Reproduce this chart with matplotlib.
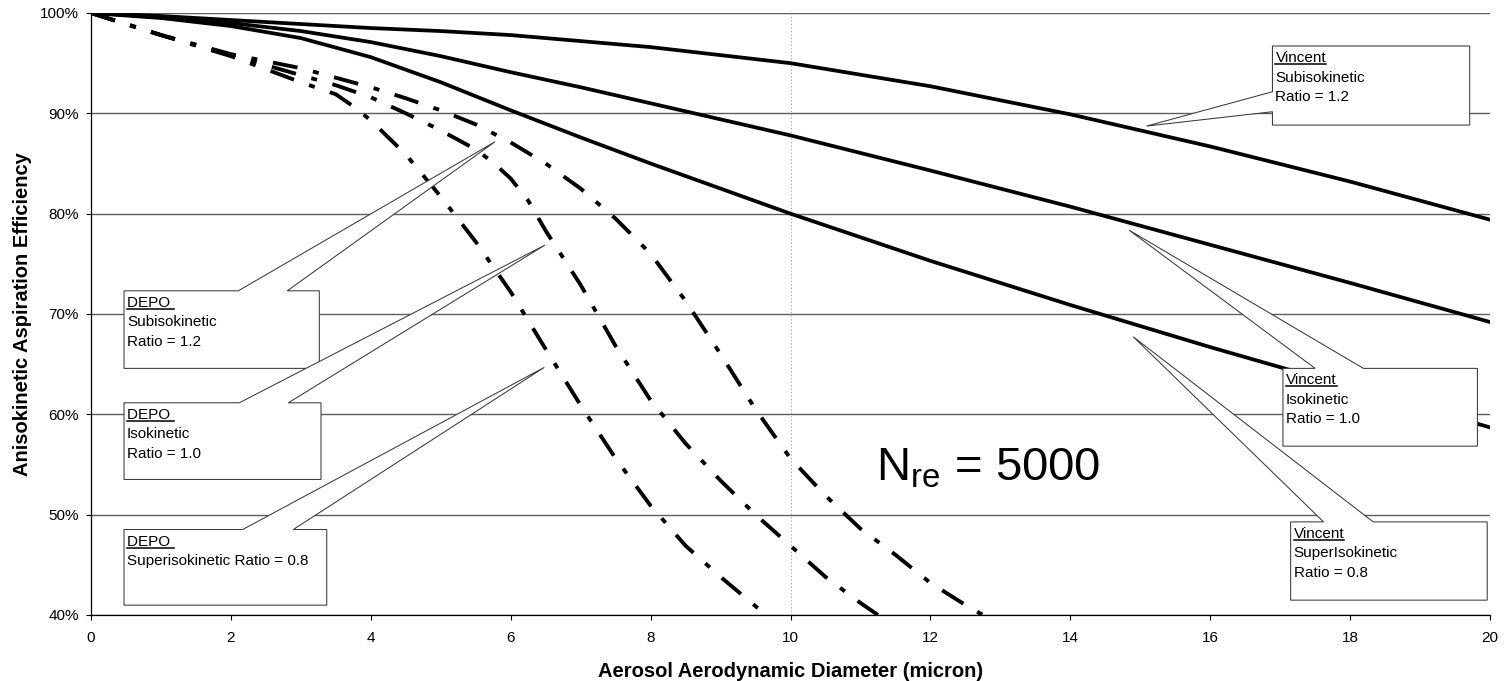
import matplotlib
matplotlib.use('Agg')
import matplotlib.pyplot as plt
from matplotlib.patches import Polygon
from matplotlib.lines import Line2D

plt.rcParams['font.family'] = ['Liberation Sans', 'DejaVu Sans']
plt.rcParams['lines.scale_dashes'] = False

# ---------------- data ----------------
# Vincent model (solid)
vin_x = [0, 1, 2, 3, 4, 5, 6, 7, 8, 10, 12, 14, 16, 18, 20]
vin_sub_12 = [100, 99.7, 99.3, 98.9, 98.5, 98.2, 97.8, 97.2, 96.6, 95.0, 92.7, 89.9, 86.7, 83.2, 79.4]
vin_iso_10 = [100, 99.6, 99.0, 98.2, 97.1, 95.7, 94.1, 92.6, 91.0, 87.8, 84.3, 80.7, 76.9, 73.1, 69.2]
vin_sup_08 = [100, 99.5, 98.7, 97.5, 95.6, 93.1, 90.3, 87.6, 85.0, 80.0, 75.3, 70.9, 66.7, 62.7, 58.7]

# DEPO model (dash-dot)
depo_sub_x = [0, 1, 2, 3, 4, 4.5, 5, 5.5, 6, 6.5, 7, 7.5, 8, 8.5, 9, 9.5, 10, 10.5, 11, 11.5, 12, 12.5, 12.75]
depo_sub_y = [100, 97.8, 95.9, 94.5, 92.6, 91.5, 90.3, 88.9, 87.1, 85.0, 82.5, 79.5, 76.0, 71.3, 66.0, 60.5, 55.6, 51.9, 48.6, 46.0, 43.2, 41.0, 40.0]
depo_iso_x = [0, 1, 2, 2.5, 3, 3.5, 4, 4.5, 5, 5.5, 5.75, 6, 6.25, 6.5, 7, 7.5, 8, 8.5, 9, 9.5, 10, 10.5, 11, 11.25]
depo_iso_y = [100, 97.8, 95.8, 94.8, 93.8, 92.8, 91.6, 90.0, 88.3, 86.4, 85.1, 83.5, 81.3, 78.3, 72.9, 66.8, 61.4, 57.1, 53.4, 50.0, 46.9, 43.8, 41.2, 40.0]
depo_sup_x = [0, 1, 2, 2.5, 3, 3.5, 3.75, 4, 4.5, 5, 5.5, 6, 6.5, 7, 7.5, 8, 8.5, 9, 9.65]
depo_sup_y = [100, 97.8, 95.7, 94.4, 93.1, 91.9, 90.7, 89.3, 85.9, 81.7, 77.2, 72.2, 66.5, 60.9, 55.6, 50.9, 46.9, 43.8, 40.0]

x_ticks = [0, 2, 4, 6, 8, 10, 12, 14, 16, 18, 20]
y_ticks = [40, 50, 60, 70, 80, 90, 100]
y_tick_labels = ['40%', '50%', '60%', '70%', '80%', '90%', '100%']

x_label = 'Aerosol Aerodynamic Diameter (micron)'
y_label = 'Anisokinetic Aspiration Efficiency'

# callout labels: header, lines
callout_texts = [
    ('DEPO ', ['Subisokinetic', 'Ratio = 1.2']),
    ('DEPO ', ['Isokinetic', 'Ratio = 1.0']),
    ('DEPO ', ['Superisokinetic Ratio = 0.8']),
    ('Vincent', ['Subisokinetic', 'Ratio = 1.2']),
    ('Vincent', ['Isokinetic', 'Ratio = 1.0']),
    ('Vincent', ['SuperIsokinetic', 'Ratio = 0.8']),
]
# geometry of callouts (data coords): box x0,x1,ybottom,ytop ; wedge side, base a,b ; tip
callout_geom = [
    ((0.472, 3.264, 64.58, 72.31), 'top', (2.106, 2.806), (5.776, 87.17)),
    ((0.472, 3.288, 53.51, 61.15), 'top', (2.120, 2.821), (6.49, 76.87)),
    ((0.472, 3.370, 40.98, 48.52), 'top', (2.169, 2.892), (6.48, 64.68)),
    ((16.89, 19.71, 88.83, 96.71), 'left', (90.16, 92.15), (15.09, 88.73)),
    ((17.04, 19.82, 56.83, 64.58), 'top', (17.50, 18.19), (14.84, 78.36)),
    ((17.15, 19.96, 41.48, 49.28), 'top', (17.62, 18.33), (14.90, 67.73)),
]

# ---------------- figure ----------------
W, H = 1504, 681
fig = plt.figure(figsize=(W / 100, H / 100), dpi=100)
ax = fig.add_axes([91 / W, 1 - 615 / H, 1399 / W, 602 / H])

ax.set_xlim(0, 20)
ax.set_ylim(40, 100)

for yv in (vin_sub_12, vin_iso_10, vin_sup_08):
    ax.plot(vin_x, yv, color='black', lw=2.7, solid_joinstyle='round', zorder=3)

pattern = [18, 11.5, 4.3, 11.5]
for xs, ys in ((depo_sub_x, depo_sub_y), (depo_iso_x, depo_iso_y), (depo_sup_x, depo_sup_y)):
    ax.plot(xs, ys, color='black', lw=2.8, dashes=pattern, dash_capstyle='butt',
            dash_joinstyle='round', zorder=3)

ax.axvline(10, color='#a8a8a8', lw=0.7, ls=(0, (1, 1.5)), zorder=1)

ax.set_xticks(x_ticks)
ax.set_yticks(y_ticks)
ax.set_yticklabels(y_tick_labels)
ax.yaxis.grid(True, color='#5e5e5e', lw=1.0)
ax.set_axisbelow(True)
for s in ('top', 'right'):
    ax.spines[s].set_visible(False)
for s in ('left', 'bottom'):
    ax.spines[s].set_color('black')
    ax.spines[s].set_linewidth(0.9)
ax.tick_params(axis='both', direction='out', length=3.6, width=0.8, labelsize=11, colors='black')
ax.tick_params(axis='x', pad=8)
ax.tick_params(axis='y', pad=5)

ax.set_xlabel(x_label, fontsize=14.5, fontweight='bold')
ax.set_ylabel(y_label, fontsize=14.5, fontweight='bold')
ax.xaxis.set_label_coords(0.5, -0.078)
ax.yaxis.set_label_coords(-0.042, 0.5)

ax.text(11.22, 53.44, r'$\mathregular{N_{re}}$ = 5000', fontsize=34, va='baseline', ha='left', zorder=6)

# callouts
headers = []
for (box, side, base, tip), (head, lines) in zip(callout_geom, callout_texts):
    x0, x1, yb, yt = box
    if side == 'top':
        a, b = base
        verts = [(x0, yt), (a, yt), tip, (b, yt), (x1, yt), (x1, yb), (x0, yb)]
    else:
        lo, hi = base
        verts = [(x0, yt), (x1, yt), (x1, yb), (x0, yb), (x0, lo), tip, (x0, hi)]
    ax.add_patch(Polygon(verts, closed=True, facecolor='white', edgecolor='#3a3a3a',
                         lw=0.75, zorder=5, clip_on=False))
    t = ax.annotate(head, xy=(x0, yt), xycoords='data', xytext=(3, -16),
                    textcoords='offset pixels', va='baseline', ha='left', fontsize=11, zorder=6)
    headers.append((t, x0, yt))
    for i, ln in enumerate(lines):
        ax.annotate(ln, xy=(x0, yt), xycoords='data', xytext=(3, -35.5 - 19.5 * i),
                    textcoords='offset pixels', va='baseline', ha='left', fontsize=11, zorder=6)

fig.canvas.draw()
renderer = fig.canvas.get_renderer()
inv = fig.transFigure.inverted()
for t, x0, yt in headers:
    bb = t.get_window_extent(renderer)
    px, py = ax.transData.transform((x0, yt))
    yl = py - 16 - 2
    p0 = inv.transform((bb.x0, yl))
    p1 = inv.transform((bb.x1, yl))
    fig.add_artist(Line2D([p0[0], p1[0]], [p0[1], p1[1]], color='black', lw=1.1, zorder=7))

fig.savefig('out.png', dpi=100)
